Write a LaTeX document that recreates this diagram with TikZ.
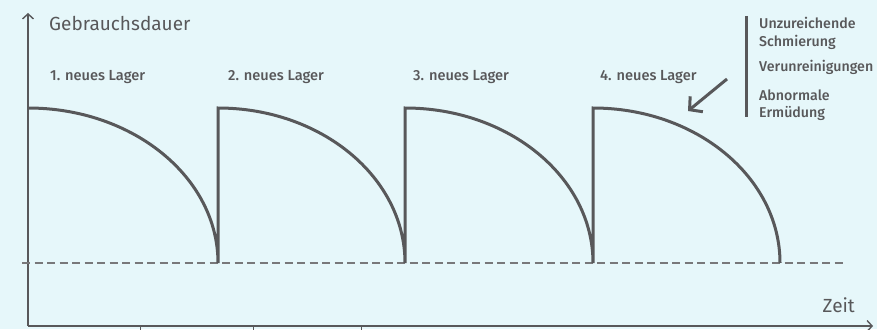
\documentclass[tikz,border=0pt]{standalone}
\usepackage{fontspec}
\setmainfont{Fira Sans}[BoldFont={Fira Sans Medium}]
\usetikzlibrary{arrows.meta}
\definecolor{bg}{RGB}{230,247,250}
\definecolor{ink}{RGB}{88,88,90}
\definecolor{dash}{RGB}{120,120,122}
\tikzset{
  axisline/.style={draw=ink, line width=1.6pt, -{Straight Barb[length=5pt,width=11pt,line width=1.4pt]}},
  curveline/.style={draw=ink, line width=3pt, line join=miter},
  dashline/.style={draw=dash, line width=1.2pt, dash pattern=on 8pt off 4.5pt},
  biglabel/.style={text=ink, font=\fontsize{19}{21}\selectfont, inner sep=0pt},
  lagerlabel/.style={text=ink, font=\bfseries\fontsize{14.6}{16}\selectfont, inner sep=0pt, anchor=base west},
  causelabel/.style={text=ink, font=\bfseries\fontsize{14.2}{16}\selectfont, inner sep=0pt, anchor=base west},
  tickline/.style={draw=ink, line width=1pt}
}
\begin{document}
\begin{tikzpicture}[x=1pt,y=-1pt]
\fill[bg] (0,0) rectangle (877,329);
\useasboundingbox (0,0) rectangle (877,329);
% axes
\coordinate (O) at (28,326);
\coordinate (Ytop) at (28,13);
\coordinate (Xend) at (873,326);
\draw[axisline] (O) -- (Ytop);
\draw[axisline] (O) -- (Xend);
% ticks
\foreach \tx/\nm in {140/ta,253/tb,361/tc}{
  \coordinate (\nm1) at (\tx,326);
  \coordinate (\nm2) at (\tx,330);
  \draw[tickline] (\nm1) -- (\nm2);
}
% dashed baseline
\coordinate (D1) at (22,263);
\coordinate (D2) at (846,263);
\draw[dashline] (D1) -- (D2);
% curves
\coordinate (A0) at (28,108);
\coordinate (B1) at (218,263);
\coordinate (A1) at (218,108);
\coordinate (B2) at (405,263);
\coordinate (A2) at (405,108);
\coordinate (B3) at (593,263);
\coordinate (A3) at (593,108);
\coordinate (B4) at (780,263);
\draw[curveline] (A0) arc[start angle=90,end angle=0,x radius=190,y radius=-155]
  -- (A1) arc[start angle=90,end angle=0,x radius=187,y radius=-155]
  -- (A2) arc[start angle=90,end angle=0,x radius=188,y radius=-155]
  -- (A3) arc[start angle=90,end angle=0,x radius=187,y radius=-155];
% labels
\node[biglabel, anchor=base west] (yl) at (49,30.5) {Gebrauchsdauer};
\node[biglabel, anchor=base east] (xl) at (855,312) {Zeit};
\node[lagerlabel] (l1) at (50,80) {1. neues Lager};
\node[lagerlabel] (l2) at (228,80) {2. neues Lager};
\node[lagerlabel] (l3) at (413,80) {3. neues Lager};
\node[lagerlabel] (l4) at (600,80) {4. neues Lager};
% causes
\coordinate (bar1) at (746,16);
\coordinate (bar2) at (746,117);
\draw[draw=ink, line width=3pt] (bar1) -- (bar2);
\node[causelabel] (c1) at (759,29) {Unzureichende};
\node[causelabel] (c2) at (759,47) {Schmierung};
\node[causelabel] (c3) at (759,71) {Verunreinigungen};
\node[causelabel] (c4) at (759,100) {Abnormale};
\node[causelabel] (c5) at (759,117) {Ermüdung};
% arrow
\coordinate (P1) at (727,79);
\coordinate (P2) at (688,111);
\draw[draw=ink, line width=3pt, -{Straight Barb[length=9pt,width=20pt,line width=3pt]}] (P1) -- (P2);
\end{tikzpicture}
\end{document}
